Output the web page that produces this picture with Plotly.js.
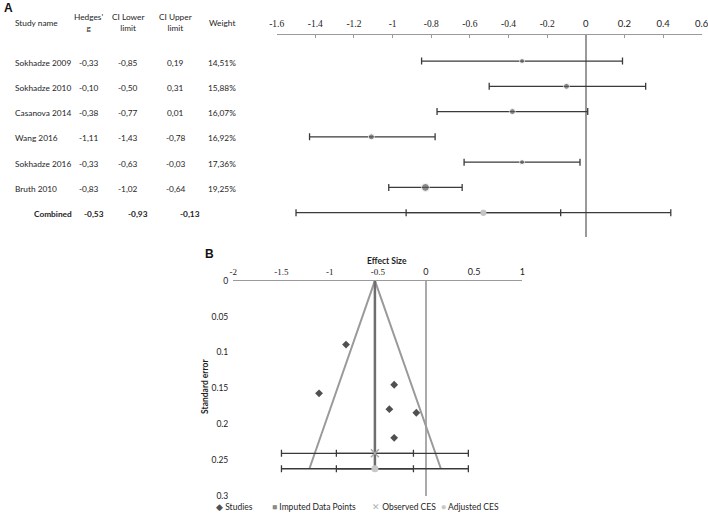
<!DOCTYPE html>
<html><head><meta charset="utf-8">
<script src="https://cdn.plot.ly/plotly-3.0.1.min.js"></script>
<style>html,body{margin:0;padding:0;background:#fff}#chart{width:708px;height:513px}</style>
</head><body><div id="chart"></div>
<script>
// ---------- Panel A: forest plot data ----------
const studies  = ['Sokhadze 2009','Sokhadze 2010','Casanova 2014','Wang 2016','Sokhadze 2016','Bruth 2010'];
const hedgesG  = [-0.33, -0.10, -0.38, -1.11, -0.33, -0.83];
const ciLower  = [-0.85, -0.50, -0.77, -1.43, -0.63, -1.02];
const ciUpper  = [ 0.19,  0.31,  0.01, -0.78, -0.03, -0.64];
const weights  = ['14,51%','15,88%','16,07%','16,92%','17,36%','19,25%'];
const combinedName  = ['Combined'];
const combinedG     = [-0.53];
const combinedLower = [-0.93];
const combinedUpper = [-0.13];
const predLower     = [-1.50];
const predUpper     = [0.44];
const forestTickVals = [-1.6,-1.4,-1.2,-1,-0.8,-0.6,-0.4,-0.2,0,0.2,0.4,0.6];
const forestTickText = ['-1.6','-1.4','-1.2','-1','-0.8','-0.6','-0.4','-0.2','0','0.2','0.4','0.6'];

// ---------- Panel B: funnel plot data ----------
const funnelES = [-0.83, -1.11, -0.33, -0.38, -0.10, -0.33];
const funnelSE = [0.089, 0.157, 0.145, 0.179, 0.184, 0.219];
const cesRows  = ['Observed CES','Adjusted CES'];
const cesES    = [-0.53, -0.53];
const cesSE    = [0.2405, 0.262];
const cesLower = [-0.93, -0.93];
const cesUpper = [-0.13, -0.13];
const cesPredLower = [-1.50, -1.50];
const cesPredUpper = [0.44, 0.44];
const funnelEdgeX = [-1.21, -0.53, 0.155];
const funnelEdgeY = [0.262, 0, 0.262];
const funnelCentreX = [-0.53, -0.53];
const funnelCentreY = [0, 0.262];
const funnelTickVals = [-2,-1.5,-1,-0.5,0,0.5,1];
const funnelTickText = ['-2','-1.5','-1','-0.5','0','0.5','1'];
const seTickVals = [0,0.05,0.1,0.15,0.2,0.25,0.3];
const seTickText = ['0','0.05','0.1','0.15','0.2','0.25','0.3'];
const legendItems = ['Studies','Imputed Data Points','Observed CES','Adjusted CES'];

// ---------- helpers / styles ----------
const W = 708, H = 513;
const px = v => v / W;
const py = v => 1 - v / H;
const SANS = 'Lato, "Open Sans", sans-serif';
const fmt = v => v.toFixed(2).replace('.', ',');
const mixTick = (t, v) => v < 0 ? '<span style="font-family:Liberation Serif">' + t + '</span>' : t;
const markerSizesA = [5, 6, 6, 6, 5, 8];
const barColor = '#3a3a3a';

const traces = [];
// forest: outer prediction bar for combined (drawn first)
traces.push({
  x: combinedG, y: combinedName, xaxis: 'x', yaxis: 'y', type: 'scatter', mode: 'markers',
  marker: {size: 6, color: '#c4c4c4'},
  error_x: {type: 'data', symmetric: false,
    array: predUpper.map((u, i) => u - combinedG[i]),
    arrayminus: predLower.map((l, i) => combinedG[i] - l),
    color: barColor, thickness: 1.3, width: 3.5},
  showlegend: false, hoverinfo: 'skip'
});
traces.push({
  x: combinedG, y: combinedName, xaxis: 'x', yaxis: 'y', type: 'scatter', mode: 'markers',
  marker: {size: 6, color: '#c4c4c4'},
  error_x: {type: 'data', symmetric: false,
    array: combinedUpper.map((u, i) => u - combinedG[i]),
    arrayminus: combinedLower.map((l, i) => combinedG[i] - l),
    color: barColor, thickness: 1.3, width: 3.5},
  showlegend: false, hoverinfo: 'skip'
});
// forest: studies
traces.push({
  x: hedgesG, y: studies, xaxis: 'x', yaxis: 'y', type: 'scatter', mode: 'markers',
  marker: {size: markerSizesA, color: '#5a5a5a'},
  error_x: {type: 'data', symmetric: false,
    array: ciUpper.map((u, i) => u - hedgesG[i]),
    arrayminus: ciLower.map((l, i) => hedgesG[i] - l),
    color: barColor, thickness: 1.3, width: 3.5},
  showlegend: false, hoverinfo: 'skip'
});

// funnel: edges and centre line
traces.push({x: funnelEdgeX, y: funnelEdgeY, xaxis: 'x2', yaxis: 'y2', mode: 'lines',
  line: {color: '#9a9a9a', width: 2}, showlegend: false, hoverinfo: 'skip'});
traces.push({x: funnelCentreX, y: funnelCentreY, xaxis: 'x2', yaxis: 'y2', mode: 'lines',
  line: {color: '#6e6e6e', width: 2.5}, showlegend: false, hoverinfo: 'skip'});
// CES bars (prediction and CI caps)
traces.push({x: cesES, y: cesSE, xaxis: 'x2', yaxis: 'y2', mode: 'markers',
  marker: {size: 1, color: 'rgba(0,0,0,0)'},
  error_x: {type: 'data', symmetric: false,
    array: cesPredUpper.map((u, i) => u - cesES[i]),
    arrayminus: cesPredLower.map((l, i) => cesES[i] - l),
    color: barColor, thickness: 1.3, width: 3.5},
  showlegend: false, hoverinfo: 'skip'});
traces.push({x: cesES, y: cesSE, xaxis: 'x2', yaxis: 'y2', mode: 'markers',
  marker: {size: 1, color: 'rgba(0,0,0,0)'},
  error_x: {type: 'data', symmetric: false,
    array: cesUpper.map((u, i) => u - cesES[i]),
    arrayminus: cesLower.map((l, i) => cesES[i] - l),
    color: barColor, thickness: 1.3, width: 3.5},
  showlegend: false, hoverinfo: 'skip'});
// Observed CES marker
traces.push({x: [cesES[0]], y: [cesSE[0]], xaxis: 'x2', yaxis: 'y2', mode: 'markers',
  marker: {symbol: 'x-thin', size: 8, line: {color: '#a8a8a8', width: 1.5}},
  showlegend: false, hoverinfo: 'skip'});
// Adjusted CES marker
traces.push({x: [cesES[1]], y: [cesSE[1]], xaxis: 'x2', yaxis: 'y2', mode: 'markers',
  marker: {symbol: 'circle', size: 7, color: '#c8c8c8'},
  showlegend: false, hoverinfo: 'skip'});
// Studies diamonds
traces.push({x: funnelES, y: funnelSE, xaxis: 'x2', yaxis: 'y2', mode: 'markers',
  marker: {symbol: 'diamond', size: 6, color: '#505050'},
  showlegend: false, hoverinfo: 'skip'});

// ---------- annotations ----------
const ann = [];
const txt = (text, x, y, opts) => Object.assign({text, x: px(x), y: py(y), xref: 'paper', yref: 'paper',
  showarrow: false, xanchor: 'center', yanchor: 'middle', font: {family: SANS, size: 9, color: '#1e1e1e'}}, opts || {});
ann.push(txt('<b>A</b>', 8, 8, {font: {family: 'Liberation Sans', size: 12, color: '#111'}}));
ann.push(txt('<b>B</b>', 209, 254, {font: {family: 'Liberation Sans', size: 12, color: '#111'}}));
// table header
const hf = {family: SANS, size: 8.3, color: '#1e1e1e'};
ann.push(txt('Study name', 13, 23, {xanchor: 'left', font: hf}));
ann.push(txt("Hedges'<br>g", 88, 23, {font: hf}));
ann.push(txt('CI Lower<br>limit', 128, 23, {font: hf}));
ann.push(txt('CI Upper<br>limit', 175.5, 23, {font: hf}));
ann.push(txt('Weight', 222, 23, {font: hf}));
// table rows
const rowAnn = (text, x, cat, opts) => Object.assign({text, x: px(x), xref: 'paper', y: cat, yref: 'y', yshift: -1.5,
  showarrow: false, xanchor: 'center', yanchor: 'middle', font: {family: SANS, size: 8.3, color: '#1e1e1e'}}, opts || {});
studies.forEach((s, i) => {
  ann.push(rowAnn(s, 13, s, {xanchor: 'left'}));
  ann.push(rowAnn(fmt(hedgesG[i]), 89.5, s));
  ann.push(rowAnn(fmt(ciLower[i]), 128, s));
  ann.push(rowAnn(fmt(ciUpper[i]), 175.5, s));
  ann.push(rowAnn(weights[i], 222, s));
});
ann.push(rowAnn('<b>' + combinedName[0] + '</b>', 52.5, combinedName[0]));
ann.push(rowAnn('<b>' + fmt(combinedG[0]) + '</b>', 94, combinedName[0]));
ann.push(rowAnn('<b>' + fmt(combinedLower[0]) + '</b>', 138, combinedName[0]));
ann.push(rowAnn('<b>' + fmt(combinedUpper[0]) + '</b>', 189.5, combinedName[0]));
// funnel titles
ann.push(txt('<b>Effect Size</b>', 387, 261, {font: {family: SANS, size: 8.5, color: '#1e1e1e'}}));
ann.push(txt('<b>Standard error</b>', 205, 387, {textangle: -90, font: {family: SANS, size: 8.5, color: '#1e1e1e'}}));
// funnel legend
const legSym = ['<span style="color:#505050">◆</span>', '<span style="color:#8a8a8a">■</span>',
                '<span style="color:#b0b0b0">✕</span>', '<span style="color:#c8c8c8">●</span>'];
const legX = [213.5, 270, 369.5, 439];
legendItems.forEach((l, i) => {
  ann.push(txt(legSym[i] + ' ' + l, legX[i], 507, {xanchor: 'left', font: {family: SANS, size: 8.5, color: '#1e1e1e'}}));
});

const layout = {
  width: W, height: H, margin: {l: 0, r: 0, t: 0, b: 0},
  paper_bgcolor: '#fff', plot_bgcolor: 'rgba(0,0,0,0)', showlegend: false,
  xaxis: {domain: [px(276.7), px(701.7)], range: [-1.6, 0.6], side: 'top', anchor: 'y',
    showline: true, linecolor: '#9a9a9a', linewidth: 1, ticks: 'inside', ticklen: 3, tickcolor: '#9a9a9a',
    tickvals: forestTickVals, ticktext: forestTickText.map((t, i) => mixTick(t, forestTickVals[i])),
    ticklabeloverflow: 'allow',
    showgrid: false, zeroline: true, zerolinecolor: '#9a9a9a', zerolinewidth: 1.5,
    tickfont: {family: SANS, size: 9.5, color: '#222'}, ticklabelstandoff: 3, fixedrange: true},
  yaxis: {domain: [py(236.7), py(35)], type: 'category', categoryorder: 'array',
    categoryarray: studies.concat(combinedName), range: [6.95, -1.03], visible: false, fixedrange: true},
  xaxis2: {domain: [px(233.3), px(522.3)], range: [-2, 1], side: 'top', anchor: 'y2',
    showline: true, linecolor: '#9a9a9a', linewidth: 1.2, ticks: '',
    tickvals: funnelTickVals, ticktext: funnelTickText.map((t, i) => mixTick(t, funnelTickVals[i])),
    ticklabeloverflow: 'allow',
    showgrid: false, zeroline: true, zerolinecolor: '#aaaaaa', zerolinewidth: 1.3,
    tickfont: {family: SANS, size: 9, color: '#222'}, ticklabelstandoff: 1, fixedrange: true},
  yaxis2: {domain: [py(496), py(280.7)], range: [0.3, 0], anchor: 'x2',
    showline: false, ticks: '', showgrid: false, zeroline: false,
    tickvals: seTickVals, ticktext: seTickText,
    tickfont: {family: SANS, size: 8.5, color: '#222'}, ticklabelstandoff: 4, fixedrange: true},
  annotations: ann
};
Plotly.newPlot('chart', traces, layout, {staticPlot: true, displayModeBar: false});
</script></body></html>
